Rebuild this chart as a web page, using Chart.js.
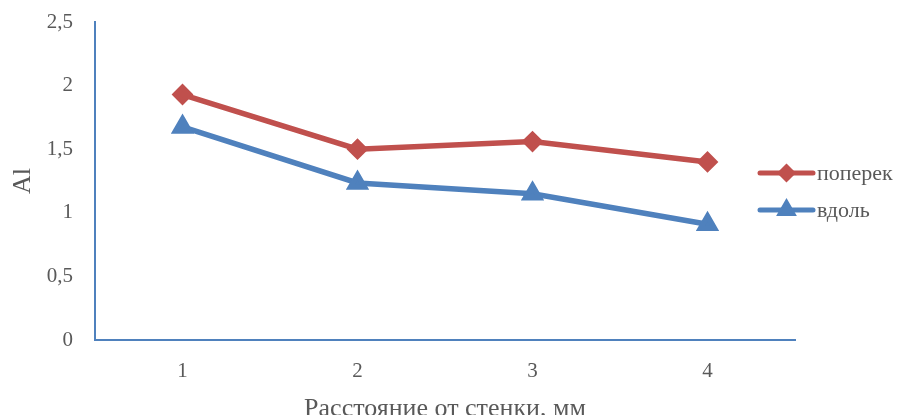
<!DOCTYPE html>
<html>
<head>
<meta charset="utf-8">
<script src="https://cdn.jsdelivr.net/npm/chart.js@4"></script>
<style>
  html, body { margin: 0; padding: 0; background: #fff; }
  #wrap { width: 905px; height: 415px; }
</style>
</head>
<body>
<div id="wrap"><canvas id="chart" width="905" height="415"></canvas></div>
<script>
const categories = ['1', '2', '3', '4'];
const poperek = [1.93, 1.50, 1.56, 1.40];
const vdol = [1.675, 1.235, 1.15, 0.91];
const seriesNames = ['поперек', 'вдоль'];

const axisBlue = '#4f81bd';
const textGrey = '#595959';
const serif = '"Liberation Serif", "DejaVu Serif", serif';

// legend drawn as line + marker, like the original
const lineLegend = {
    id: 'lineLegend',
    afterDraw(chart) {
        const ctx = chart.ctx;
        const x0 = 760, x1 = 813;
        const rows = [173, 210];
        chart.data.datasets.forEach((ds, i) => {
            const y = rows[i];
            ctx.save();
            ctx.strokeStyle = ds.borderColor;
            ctx.lineWidth = 5;
            ctx.lineCap = 'round';
            ctx.beginPath();
            ctx.moveTo(x0, y);
            ctx.lineTo(x1, y);
            ctx.stroke();
            Chart.helpers.drawPoint(ctx, {
                pointStyle: ds.pointStyle,
                radius: ds.pointRadius - 1,
                borderWidth: 1
            }, (x0 + x1) / 2, y);
            ctx.fillStyle = ds.borderColor;
            ctx.fill();
            ctx.fillStyle = textGrey;
            ctx.font = '22px ' + serif;
            ctx.textBaseline = 'middle';
            ctx.fillText(ds.label, x1 + 4, y + 1);
            ctx.restore();
        });
    }
};

new Chart(document.getElementById('chart').getContext('2d'), {
    type: 'line',
    data: {
        labels: categories,
        datasets: [
            {
                label: seriesNames[0],
                data: poperek,
                borderColor: '#c0504d',
                backgroundColor: '#c0504d',
                borderWidth: 5.5,
                pointStyle: 'rectRot',
                pointRadius: 7,
                pointHoverRadius: 7,
                tension: 0
            },
            {
                label: seriesNames[1],
                data: vdol,
                borderColor: '#4f81bd',
                backgroundColor: '#4f81bd',
                borderWidth: 5.5,
                pointStyle: 'triangle',
                pointRadius: 8,
                pointHoverRadius: 8,
                tension: 0
            }
        ]
    },
    options: {
        responsive: false,
        animation: false,
        layout: { padding: { top: 22, right: 110, left: 0, bottom: 0 } },
        plugins: {
            legend: { display: false },
            tooltip: { enabled: false }
        },
        scales: {
            x: {
                offset: true,
                grid: { display: false, drawTicks: false },
                border: { color: axisBlue, width: 2 },
                ticks: { color: textGrey, font: { family: serif, size: 21 }, padding: 19 },
                title: {
                    display: true,
                    text: 'Расстояние от стенки, мм',
                    color: textGrey,
                    font: { family: serif, size: 26 },
                    padding: { top: 0, bottom: -10 }
                },
                afterFit(scale) { scale.height = 75; }
            },
            y: {
                min: 0,
                max: 2.5,
                grid: { display: false, drawTicks: false },
                border: { color: axisBlue, width: 2 },
                ticks: {
                    stepSize: 0.5,
                    color: textGrey,
                    font: { family: serif, size: 21 },
                    padding: 22,
                    callback: v => String(v).replace('.', ',')
                },
                title: {
                    display: true,
                    text: 'Al',
                    color: textGrey,
                    font: { family: serif, size: 26 },
                    padding: { top: 8, bottom: 0 }
                },
                afterFit(scale) {
                    scale.width = 95;
                    scale.paddingTop = 0;
                    scale.paddingBottom = 0;
                }
            }
        }
    },
    plugins: [lineLegend]
});
</script>
</body>
</html>
